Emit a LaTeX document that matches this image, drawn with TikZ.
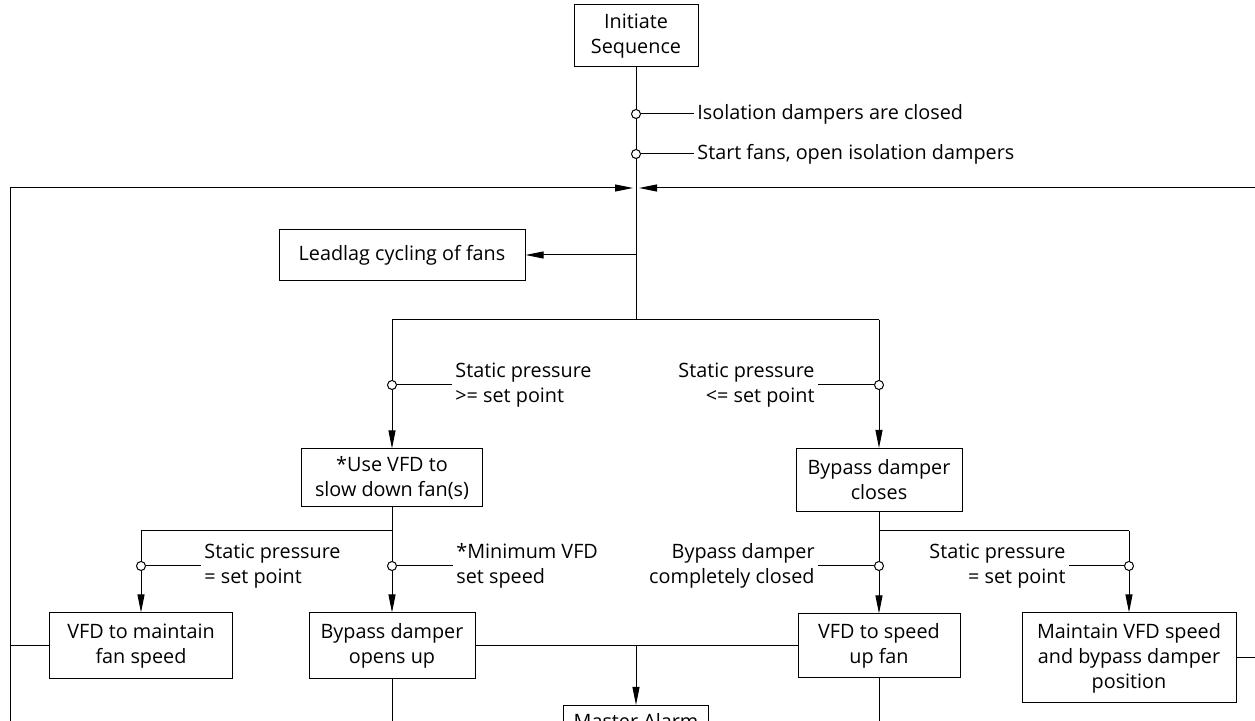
\documentclass[tikz,border=0pt]{standalone}
\usepackage{fontspec}
\setmainfont{Open Sans}
\usetikzlibrary{arrows.meta}
\begin{document}
\begin{tikzpicture}[x=0.5pt, y=-0.5pt,
    every node/.style={font=\fontsize{9.9}{12.5}\selectfont},
    box/.style={draw, line width=.5pt, align=center, inner sep=0pt},
    lbl/.style={inner sep=1.5pt},
    tap/.style={circle, draw, fill=white, inner sep=0pt, minimum size=4.5pt, line width=.5pt},
    flow/.style={line width=.5pt, -{Triangle[length=9pt,width=3.5pt]}},
    wire/.style={line width=.5pt}]
  \useasboundingbox (0,0) rectangle (1255,721);
  \clip (0,0) rectangle (1255,721);

  %%boxes
  \node[box, minimum width=62pt, minimum height=31pt] (init) at (636,36) {Initiate\\Sequence};
  \node[box, minimum width=123pt, minimum height=25.5pt] (lead) at (402,255) {Leadlag cycling of fans};
  \node[box, minimum width=90.5pt, minimum height=29pt] (slow) at (392,478) {*Use VFD to\\slow down fan(s)};
  \node[box, minimum width=83pt, minimum height=31.5pt] (bpclose) at (879,480) {Bypass damper\\closes};
  \node[box, minimum width=91.5pt, minimum height=33pt] (hold) at (141,646) {VFD to maintain\\fan speed};
  \node[box, minimum width=83pt, minimum height=33pt] (bpopen) at (392,646) {Bypass damper\\opens up};
  \node[box, minimum width=81pt, minimum height=32pt] (speedup) at (879,646) {VFD to speed\\up fan};
  \node[box, minimum width=107pt, minimum height=45pt] (keep) at (1129,658) {Maintain VFD speed\\and bypass damper\\position};
  \node[box, minimum width=72.5pt, anchor=north, inner sep=4pt] (alarm) at (636,705) {Master Alarm};

  %%junctions
  \coordinate (fbL) at (633,188);
  \coordinate (fbR) at (639,188);
  \coordinate (j1) at (636,255);
  \coordinate (j2) at (636,320);
  \coordinate (j2L) at (392,320);
  \coordinate (j2R) at (879,320);
  \coordinate (j3) at (392,531);
  \coordinate (j3L) at (141,531);
  \coordinate (j4) at (879,531);
  \coordinate (j4R) at (1129,531);
  \coordinate (j5) at (636,646);
  \coordinate (cornerL) at (10,188);
  \coordinate (cornerR) at (1275,188);
  \coordinate (outL) at (10,740);
  \coordinate (outOpen) at (392,740);
  \coordinate (outUp) at (879,740);

  %%main line
  \draw[wire] (init.south) -- (j2);
  \draw[flow] (j1) -- (lead);
  \draw[wire] (j2L) -- (j2R);
  \draw[flow] (j2L) -- (slow);
  \draw[flow] (j2R) -- (bpclose);
  %%left branch
  \draw[wire] (slow.south) -- (j3) -- (j3L);
  \draw[flow] (j3L) -- (hold);
  \draw[flow] (j3) -- (bpopen);
  %%right branch
  \draw[wire] (bpclose.south) -- (j4) -- (j4R);
  \draw[flow] (j4) -- (speedup);
  \draw[flow] (j4R) -- (keep);
  %%alarm
  \draw[wire] (bpopen) -- (speedup);
  \draw[flow] (j5) -- (alarm);
  \draw[wire] (bpopen.south) -- (outOpen);
  \draw[wire] (speedup.south) -- (outUp);
  %%loops back
  \draw[flow] (hold.west) -| (cornerL) -- (fbL);
  \draw[wire] (cornerL) -- (outL);
  \draw[flow] (keep.east) -| (cornerR) -- (fbR);

  %%conditions
  \node[tap] (t1) at (636,114) {};
  \node[lbl, anchor=west] (l1) at (694,114) {Isolation dampers are closed};
  \draw[wire] (t1) -- (l1);
  \node[tap] (t2) at (636,154) {};
  \node[lbl, anchor=west] (l2) at (694,154) {Start fans, open isolation dampers};
  \draw[wire] (t2) -- (l2);

  \node[tap] (t3) at (392,385) {};
  \node[lbl, anchor=west, align=left] (l3) at (452,385) {Static pressure\\>= set point};
  \draw[wire] (t3) -- (l3);
  \node[tap] (t4) at (879,385) {};
  \node[lbl, anchor=east, align=right] (l4) at (818,385) {Static pressure\\<= set point};
  \draw[wire] (t4) -- (l4);

  \node[tap] (t5) at (141,566) {};
  \node[lbl, anchor=west, align=left] (l5) at (201,566) {Static pressure\\= set point};
  \draw[wire] (t5) -- (l5);
  \node[tap] (t6) at (392,566) {};
  \node[lbl, anchor=west, align=left] (l6) at (453,566) {*Minimum VFD\\set speed};
  \draw[wire] (t6) -- (l6);
  \node[tap] (t7) at (879,566) {};
  \node[lbl, anchor=east, align=right] (l7) at (818,566) {Bypass damper\\completely closed};
  \draw[wire] (t7) -- (l7);
  \node[tap] (t8) at (1129,566) {};
  \node[lbl, anchor=east, align=right] (l8) at (1069,566) {Static pressure\\= set point};
  \draw[wire] (t8) -- (l8);
\end{tikzpicture}
\end{document}
